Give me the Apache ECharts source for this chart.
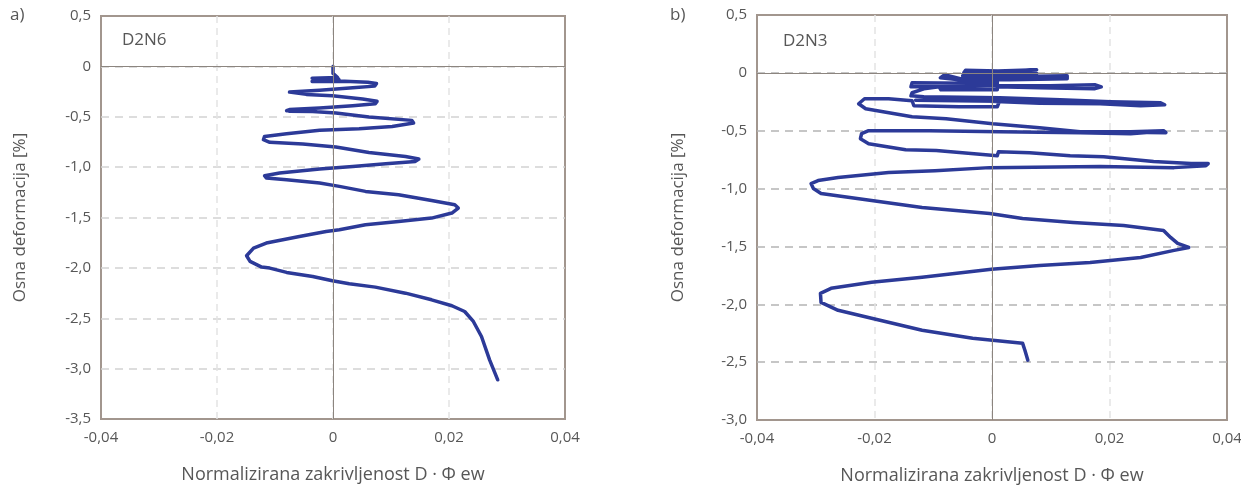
<!DOCTYPE html>
<html>
<head>
<meta charset="utf-8">
<script src="https://cdn.jsdelivr.net/npm/echarts@6/dist/echarts.min.js"></script>
<style>
  html, body { margin: 0; padding: 0; background: #ffffff; }
  #chart { width: 1241px; height: 486px; }
</style>
</head>
<body>
<div id="chart"></div>
<script>
// Specimen D2N6: normalised curvature (x) vs axial strain in % (y)
const d2n6Curvature = [
  0, 0, 0.0008, -0.0036, -0.0038, 0.0010, -0.0030, -0.0036, 0.0020, 0.0060, 0.0075, 0.0072,
  0.0034, -0.0023, -0.0075, -0.0078, -0.0046, -0.0001, 0.0051, 0.0076, 0.0073, 0.0034,
  -0.0023, -0.0075, -0.0080, -0.0030, -0.0075, -0.0078, -0.0035, 0.0005, 0.0062, 0.0136,
  0.0139, 0.0102, 0.0045, -0.0023, -0.0080, -0.0118, -0.0120, -0.0109, -0.0052, 0.0005,
  0.0062, 0.0125, 0.0148, 0.0142, 0.0091, 0.0034, -0.0023, -0.0092, -0.0118, -0.0115,
  -0.0080, -0.0023, 0.0011, 0.0056, 0.0113, 0.0170, 0.0210, 0.0216, 0.0205, 0.0170,
  0.0113, 0.0056, 0.0011, -0.0012, -0.0058, -0.0115, -0.0137, -0.0149, -0.0143, -0.0123,
  -0.0109, -0.0080, -0.0035, -0.0001, 0.0028, 0.0073, 0.0125, 0.0170, 0.0205, 0.0227,
  0.0242, 0.0256, 0.0270, 0.0284
];
const d2n6Strain = [
  0, -0.070, -0.110, -0.118, -0.132, -0.128, -0.138, -0.150, -0.148, -0.158, -0.170, -0.196,
  -0.213, -0.238, -0.255, -0.274, -0.278, -0.291, -0.324, -0.347, -0.370, -0.390,
  -0.413, -0.428, -0.440, -0.436, -0.446, -0.453, -0.447, -0.463, -0.503, -0.536,
  -0.562, -0.596, -0.619, -0.635, -0.668, -0.695, -0.728, -0.754, -0.771, -0.801,
  -0.854, -0.894, -0.920, -0.943, -0.966, -0.993, -1.019, -1.059, -1.086, -1.108,
  -1.125, -1.158, -1.191, -1.241, -1.274, -1.331, -1.374, -1.406, -1.456, -1.506,
  -1.539, -1.572, -1.622, -1.639, -1.688, -1.754, -1.804, -1.880, -1.936, -1.992,
  -2.002, -2.045, -2.085, -2.128, -2.158, -2.191, -2.251, -2.317, -2.376, -2.433,
  -2.532, -2.681, -2.913, -3.111
];

// Specimen D2N3
const d2n3Curvature = [
  0, 0.0030, 0.0076, 0.0078, 0.0010, -0.0045, -0.0048, 0.0030, 0.0076, 0.0060, -0.0020,
  -0.0050, 0.0021, 0.0128, 0.0128, 0.0030, -0.0052, -0.0081, -0.0088, -0.0056, 0.0009,
  0.0009, -0.0136, -0.0138, -0.0073, 0.0013, 0.0099, 0.0176, 0.0186, 0.0174, 0.0081,
  0.0009, 0.0009, -0.0087, -0.0090, -0.0116, -0.0136, -0.0138, -0.0116, 0.0013, 0.0116,
  0.0202, 0.0287, 0.0294, 0.0253, 0.0184, 0.0081, -0.0100, -0.0130, 0.0013, 0.0150,
  0.0250, 0.0290, 0.0250, 0.0184, 0.0081, 0.0013, 0.0009, -0.0056, -0.0133, -0.0136,
  -0.0176, -0.0217, -0.0227, -0.0215, -0.0136, -0.0078, 0.0001, 0.0081, 0.0150, 0.0236,
  0.0292, 0.0296, 0.0200, 0.0290, 0.0236, 0.0150, 0.0013, -0.0107, -0.0210, -0.0222,
  -0.0224, -0.0210, -0.0147, -0.0095, 0.0009, 0.0011, 0.0064, 0.0133, 0.0190, 0.0275,
  0.0339, 0.0368, 0.0364, 0.0310, 0.0184, -0.0004, -0.0097, -0.0176, -0.0262, -0.0296,
  -0.0308, -0.0304, -0.0291, -0.0205, -0.0119, -0.0004, 0.0052, 0.0138, 0.0224, 0.0292,
  0.0304, 0.0316, 0.0335, 0.0310, 0.0253, 0.0167, 0.0081, -0.0001, -0.0119, -0.0205,
  -0.0274, -0.0292, -0.0291, -0.0262, -0.0205, -0.0119, -0.0033, 0.0052, 0.0056, 0.0061
];
const d2n3Strain = [
  0, 0.017, 0.026, 0.009, 0.017, 0.022, 0.000, 0.004, -0.005, -0.017, -0.017,
  -0.026, -0.034, -0.026, -0.052, -0.060, -0.052, -0.017, -0.043, -0.060, -0.069,
  -0.091, -0.086, -0.121, -0.121, -0.112, -0.112, -0.103, -0.121, -0.138, -0.129,
  -0.121, -0.147, -0.147, -0.121, -0.138, -0.172, -0.198, -0.207, -0.216, -0.233,
  -0.250, -0.259, -0.276, -0.284, -0.267, -0.262, -0.226, -0.236, -0.246, -0.262,
  -0.266, -0.272, -0.258, -0.262, -0.250, -0.241, -0.293, -0.293, -0.284, -0.241,
  -0.224, -0.224, -0.267, -0.310, -0.379, -0.397, -0.440, -0.474, -0.509, -0.509,
  -0.500, -0.517, -0.512, -0.505, -0.526, -0.517, -0.509, -0.500, -0.500, -0.526,
  -0.569, -0.612, -0.664, -0.672, -0.716, -0.681, -0.690, -0.716, -0.724, -0.767,
  -0.784, -0.784, -0.802, -0.819, -0.810, -0.819, -0.845, -0.862, -0.905, -0.931,
  -0.957, -1.000, -1.043, -1.103, -1.164, -1.216, -1.259, -1.293, -1.319, -1.362,
  -1.422, -1.474, -1.509, -1.534, -1.595, -1.638, -1.664, -1.698, -1.767, -1.810,
  -1.862, -1.905, -1.983, -2.052, -2.121, -2.224, -2.293, -2.336, -2.397, -2.483
];

const panelLetters = ['a)', 'b)'];
const specimenNames = ['D2N6', 'D2N3'];
const xAxisTitle = 'Normalizirana zakrivljenost D \u00b7 \u03a6 ew';
const yAxisTitle = 'Osna deformacija [%]';
const yRanges = [[-3.5, 0.5], [-3.0, 0.5]];

const FONT = 'Open Sans';
const TEXT = '#575757';
const CURVE = '#2c3a98';

const pairs = (xs, ys) => xs.map((x, i) => [x, ys[i]]);
const fmtX = v => Math.abs(v) < 1e-9 ? '0' : v.toFixed(2).replace('.', ',');
const fmtY = v => Math.abs(v) < 1e-9 ? '0' : v.toFixed(1).replace('.', ',');

const grids = [
  { left: 101, top: 16, width: 464, height: 403 },
  { left: 757, top: 15, width: 470, height: 405 }
];

function xAxisFor(i) {
  return {
    gridIndex: i, type: 'value', min: -0.04, max: 0.04, interval: 0.02,
    axisLine: { show: false }, axisTick: { show: false },
    axisLabel: { formatter: fmtX, color: TEXT, fontSize: 15, fontFamily: FONT, margin: 11 },
    splitLine: { show: true, showMinLine: false, showMaxLine: false,
      lineStyle: { color: '#e4e4e4', type: [7, 5], width: 1.5 } },
    name: xAxisTitle, nameLocation: 'middle', nameGap: 47,
    nameTextStyle: { color: TEXT, fontSize: 18, fontFamily: FONT }
  };
}
function yAxisFor(i, gap, gridColor) {
  return {
    gridIndex: i, type: 'value', min: yRanges[i][0], max: yRanges[i][1], interval: 0.5,
    axisLine: { show: false, onZero: false }, axisTick: { show: false },
    axisLabel: { formatter: fmtY, color: TEXT, fontSize: 15, fontFamily: FONT, margin: 10 },
    splitLine: { show: true, showMinLine: false, showMaxLine: false,
      lineStyle: { color: gridColor, type: [8, 6], width: 1.5 } },
    name: yAxisTitle, nameLocation: 'middle', nameGap: gap, nameRotate: 90,
    nameTextStyle: { color: TEXT, fontSize: 17, fontFamily: FONT }
  };
}
function zeroLines(i) {
  return {
    type: 'line', xAxisIndex: i, yAxisIndex: i, data: [], z: 1, silent: true,
    markLine: {
      silent: true, symbol: 'none', label: { show: false },
      lineStyle: { color: '#8c857f', type: 'solid', width: 1 },
      data: [{ xAxis: 0 }, { yAxis: 0 }]
    }
  };
}
function curve(i, data) {
  return {
    type: 'line', xAxisIndex: i, yAxisIndex: i, data, z: 3,
    showSymbol: false, smooth: false, silent: true,
    lineStyle: { color: CURVE, width: 3.5, join: 'round', cap: 'round' }
  };
}

const chart = echarts.init(document.getElementById('chart'), null, { renderer: 'canvas' });
chart.setOption({
  animation: false,
  backgroundColor: '#ffffff',
  grid: grids.map(g => Object.assign({
    show: true, borderColor: '#a2968e', borderWidth: 2,
    containLabel: false, outerBoundsMode: 'none'
  }, g)),
  xAxis: [xAxisFor(0), xAxisFor(1)],
  yAxis: [yAxisFor(0, 72, '#d2d2d2'), yAxisFor(1, 70, '#b4b4b4')],
  series: [
    zeroLines(0), curve(0, pairs(d2n6Curvature, d2n6Strain)),
    zeroLines(1), curve(1, pairs(d2n3Curvature, d2n3Strain))
  ],
  graphic: [
    { type: 'text', left: 10, top: 7, style: { text: panelLetters[0], fontSize: 17, fill: TEXT, fontFamily: FONT } },
    { type: 'text', left: 670, top: 7, style: { text: panelLetters[1], fontSize: 17, fill: TEXT, fontFamily: FONT } },
    { type: 'text', left: 122, top: 32, style: { text: specimenNames[0], fontSize: 17, fill: TEXT, fontFamily: FONT } },
    { type: 'text', left: 783, top: 33, style: { text: specimenNames[1], fontSize: 17, fill: TEXT, fontFamily: FONT } }
  ]
});
</script>
</body>
</html>
